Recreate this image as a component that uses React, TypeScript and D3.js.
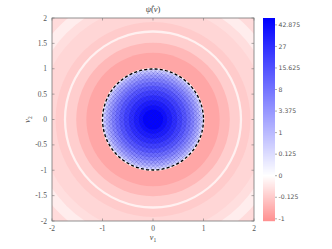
import React from "react";
import * as d3 from "d3";

// band outer radii (in v units) and the value of psi in that band
const outerRadii = [3.0, 2.62, 2.42, 2.25, 1.93, 1.765, 1.72, 1.52, 1.32, 1.02];
const outerValues = [-0.04, -0.005, -0.03, -0.06, -0.12, -0.003, -0.1, -0.3, -0.6, -0.002];
const innerRadii = [1.0, 0.97, 0.93, 0.88, 0.82, 0.75, 0.67, 0.58, 0.48, 0.38, 0.28, 0.2];
const innerValues = [0.1, 0.5, 1.5, 3, 5.5, 9, 14, 20, 27, 34, 41, 48];

const axisTicks = [-2, -1, 0, 1, 2];
const yAxisTicks = [-2, -1.5, -1, -0.5, 0, 0.5, 1, 1.5, 2];
const cbarTicks = [42.875, 27, 15.625, 8, 3.375, 1, 0.125, 0, -0.125, -1];

const W = 332;
const H = 249;
const plot = { left: 52, right: 254, top: 18, bottom: 221 };
const cbar = { left: 263, right: 275 };

const x = d3.scaleLinear().domain([-2, 2]).range([plot.left, plot.right]);
const y = d3.scaleLinear().domain([-2, 2]).range([plot.bottom, plot.top]);
const cy = d3.scalePow().exponent(1 / 3).domain([-1.16, 49]).range([plot.bottom, plot.top]);

const posColor = d3.interpolateRgb("#ffffff", "#0000ff");
const negColor = d3.interpolateRgb("#ffffff", "#ff9090");
const color = (v: number) => {
  const t = Math.cbrt(v);
  return t >= 0 ? posColor(Math.min(1, t / 3.66)) : negColor(Math.min(1, -t / 1.05));
};

const fmt = (d: number) => String(d);

export default function App() {
  const cx = x(0);
  const cyy = y(0);
  const unit = x(1) - x(0);
  const rows = d3.range(plot.top, plot.bottom, 1);
  const tick = "#555";

  return (
    <svg width={W} height={H} style={{ position: "absolute", left: 0, top: 0 }}>
      <defs>
        <clipPath id="plotClip">
          <rect x={plot.left} y={plot.top} width={plot.right - plot.left} height={plot.bottom - plot.top} />
        </clipPath>
        <pattern id="hatch" width={4.2} height={4.2} patternUnits="userSpaceOnUse">
          <path d="M0,0 L4.2,4.2 M4.2,0 L0,4.2" stroke="#1a1aa0" strokeOpacity={0.35} strokeWidth={0.6} />
        </pattern>
      </defs>
      <rect width={W} height={H} fill="#fff" />

      <g clipPath="url(#plotClip)">
        {outerRadii.map((r, i) => (
          <circle key={"o" + i} cx={cx} cy={cyy} r={r * unit} fill={color(outerValues[i])} />
        ))}
        {innerRadii.map((r, i) => (
          <circle key={"i" + i} cx={cx} cy={cyy} r={r * unit} fill={color(innerValues[i])} />
        ))}
        <circle cx={cx} cy={cyy} r={unit} fill="url(#hatch)" />
        <circle cx={cx} cy={cyy} r={unit} fill="none" stroke="#000" strokeWidth={1.3} strokeDasharray="3,2.2" />
      </g>

      {/* frame */}
      <rect x={plot.left} y={plot.top} width={plot.right - plot.left} height={plot.bottom - plot.top}
        fill="none" stroke="#777" strokeWidth={0.8} />

      {/* x ticks */}
      {axisTicks.map((t) => (
        <g key={"x" + t}>
          <line x1={x(t)} x2={x(t)} y1={plot.bottom} y2={plot.bottom - 2.5} stroke="#777" strokeWidth={0.6} />
          <line x1={x(t)} x2={x(t)} y1={plot.top} y2={plot.top + 2.5} stroke="#777" strokeWidth={0.6} />
          <text x={x(t)} y={plot.bottom + 10} fontSize={7.5} fontFamily="Liberation Serif" textAnchor="middle" fill={tick}>
            {t < 0 ? "-" + Math.abs(t) : fmt(t)}
          </text>
        </g>
      ))}
      {/* y ticks */}
      {yAxisTicks.map((t) => (
        <g key={"y" + t}>
          <line x1={plot.left} x2={plot.left + 2.5} y1={y(t)} y2={y(t)} stroke="#777" strokeWidth={0.6} />
          <line x1={plot.right} x2={plot.right - 2.5} y1={y(t)} y2={y(t)} stroke="#777" strokeWidth={0.6} />
          <text x={plot.left - 5} y={y(t) + 2.6} fontSize={7.5} fontFamily="Liberation Serif" textAnchor="end" fill={tick}>
            {fmt(t)}
          </text>
        </g>
      ))}

      <text x={x(0)} y={240} fontSize={8} fontFamily="Liberation Serif" textAnchor="middle" fill="#444">
        <tspan fontStyle="italic">v</tspan>
        <tspan fontSize={5.5} dy={1.5}>1</tspan>
      </text>
      <text transform={`translate(30,${y(0)}) rotate(-90)`} fontSize={8} fontFamily="Liberation Serif" textAnchor="middle" fill="#444">
        <tspan fontStyle="italic">v</tspan>
        <tspan fontSize={5.5} dy={1.5}>2</tspan>
      </text>
      <text x={x(0)} y={12} fontSize={8.5} fontFamily="Liberation Serif" textAnchor="middle" fill="#444">
        <tspan fontStyle="italic">{"\u03C8\u0302"}</tspan>
        <tspan>(</tspan>
        <tspan fontStyle="italic">v</tspan>
        <tspan>)</tspan>
      </text>

      {/* colorbar */}
      {rows.map((r) => (
        <rect key={"c" + r} x={cbar.left} y={r} width={cbar.right - cbar.left} height={1.2} fill={color(cy.invert(r + 0.5))} />
      ))}
      {cbarTicks.map((t) => (
        <g key={"c" + t}>
          <line x1={cbar.right} x2={cbar.right + 2} y1={cy(t)} y2={cy(t)} stroke="#777" strokeWidth={0.6} />
          <text x={cbar.right + 3.5} y={cy(t) + 2.2} fontSize={6.2} fontFamily="DejaVu Sans" fill={tick}>
            {fmt(t)}
          </text>
        </g>
      ))}
    </svg>
  );
}
